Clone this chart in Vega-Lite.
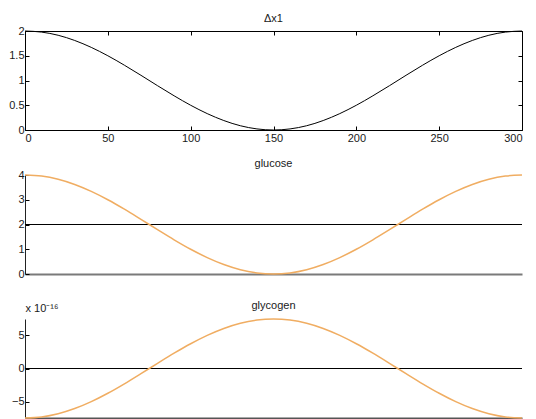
{
  "$schema": "https://vega.github.io/schema/vega-lite/v6.json",
  "bounds": "flush",
  "spacing": 45,
  "padding": {"left": 8, "top": 13, "right": 2, "bottom": 2},
  "background": "white",
  "config": {
    "font": "Liberation Sans",
    "view": {"stroke": null},
    "axis": {
      "grid": false,
      "labelFont": "Liberation Sans",
      "labelFontSize": 11,
      "labelColor": "#1a1a1a",
      "domainColor": "#000000",
      "tickColor": "#000000",
      "tickSize": -4,
      "domainWidth": 1,
      "tickWidth": 1,
      "format": "~r",
      "title": null
    },
    "title": {"font": "Liberation Sans", "fontSize": 11, "fontWeight": "normal", "color": "#1a1a1a", "frame": "group", "baseline": "alphabetic"}
  },
  "datasets": {
    "sim": [
      {"t": 0, "dx1": 2, "glucose": 4, "glycogen": -7.5},
      {"t": 10, "dx1": 1.978, "glucose": 3.956, "glycogen": -7.336},
      {"t": 20, "dx1": 1.914, "glucose": 3.827, "glycogen": -6.852},
      {"t": 30, "dx1": 1.809, "glucose": 3.618, "glycogen": -6.068},
      {"t": 40, "dx1": 1.669, "glucose": 3.338, "glycogen": -5.018},
      {"t": 50, "dx1": 1.5, "glucose": 3, "glycogen": -3.75},
      {"t": 60, "dx1": 1.309, "glucose": 2.618, "glycogen": -2.318},
      {"t": 70, "dx1": 1.105, "glucose": 2.209, "glycogen": -0.784},
      {"t": 80, "dx1": 0.895, "glucose": 1.791, "glycogen": 0.784},
      {"t": 90, "dx1": 0.691, "glucose": 1.382, "glycogen": 2.318},
      {"t": 100, "dx1": 0.5, "glucose": 1, "glycogen": 3.75},
      {"t": 110, "dx1": 0.331, "glucose": 0.662, "glycogen": 5.018},
      {"t": 120, "dx1": 0.191, "glucose": 0.382, "glycogen": 6.068},
      {"t": 130, "dx1": 0.086, "glucose": 0.173, "glycogen": 6.852},
      {"t": 140, "dx1": 0.022, "glucose": 0.044, "glycogen": 7.336},
      {"t": 150, "dx1": 0, "glucose": 0, "glycogen": 7.5},
      {"t": 160, "dx1": 0.022, "glucose": 0.044, "glycogen": 7.336},
      {"t": 170, "dx1": 0.086, "glucose": 0.173, "glycogen": 6.852},
      {"t": 180, "dx1": 0.191, "glucose": 0.382, "glycogen": 6.068},
      {"t": 190, "dx1": 0.331, "glucose": 0.662, "glycogen": 5.018},
      {"t": 200, "dx1": 0.5, "glucose": 1, "glycogen": 3.75},
      {"t": 210, "dx1": 0.691, "glucose": 1.382, "glycogen": 2.318},
      {"t": 220, "dx1": 0.895, "glucose": 1.791, "glycogen": 0.784},
      {"t": 230, "dx1": 1.105, "glucose": 2.209, "glycogen": -0.784},
      {"t": 240, "dx1": 1.309, "glucose": 2.618, "glycogen": -2.318},
      {"t": 250, "dx1": 1.5, "glucose": 3, "glycogen": -3.75},
      {"t": 260, "dx1": 1.669, "glucose": 3.338, "glycogen": -5.018},
      {"t": 270, "dx1": 1.809, "glucose": 3.618, "glycogen": -6.068},
      {"t": 280, "dx1": 1.914, "glucose": 3.827, "glycogen": -6.852},
      {"t": 290, "dx1": 1.978, "glucose": 3.956, "glycogen": -7.336},
      {"t": 300, "dx1": 2, "glucose": 4, "glycogen": -7.5}
    ]
  },
  "vconcat": [
    {
      "width": 497,
      "height": 99,
      "title": {"text": "Δx1", "offset": 1},
      "data": {"name": "sim"},
      "layer": [
        {
          "mark": {"type": "line", "color": "#000000", "strokeWidth": 1, "interpolate": "monotone"},
          "encoding": {
            "x": {"field": "t", "type": "quantitative", "scale": {"domain": [0, 300], "nice": false},
                  "axis": {"orient": "bottom", "values": [0, 50, 100, 150, 200, 250, 300], "labelPadding": 6.5}},
            "y": {"field": "dx1", "type": "quantitative", "scale": {"domain": [0, 2], "nice": false, "zero": false},
                  "axis": {"orient": "left", "values": [0, 0.5, 1, 1.5, 2], "labelPadding": 5}}
          }
        },
        {
          "mark": {"type": "line", "color": "#000000", "opacity": 0},
          "encoding": {
            "x": {"field": "t", "type": "quantitative", "scale": {"domain": [0, 300], "nice": false},
                  "axis": {"orient": "top", "values": [0, 50, 100, 150, 200, 250, 300], "labels": false}},
            "y": {"field": "dx1", "type": "quantitative", "scale": {"domain": [0, 2], "nice": false, "zero": false},
                  "axis": {"orient": "right", "values": [0, 0.5, 1, 1.5, 2], "labels": false}}
          }
        }
      ],
      "resolve": {"scale": {"x": "independent", "y": "independent"}}
    },
    {
      "width": 497,
      "height": 99,
      "title": {"text": "glucose", "offset": 0},
      "data": {"name": "sim"},
      "encoding": {
        "x": {"field": "t", "type": "quantitative", "scale": {"domain": [0, 300], "nice": false},
              "axis": {"orient": "bottom", "ticks": false, "labels": false, "domainColor": "#7a7a7a", "domainWidth": 2}}
      },
      "layer": [
        {
          "mark": {"type": "rule", "color": "#000000", "strokeWidth": 1},
          "encoding": {"x": null, "y": {"datum": 2, "type": "quantitative", "scale": {"domain": [0, 4], "nice": false},
                  "axis": {"orient": "left", "values": [0, 1, 2, 3, 4], "labelPadding": 5, "domainColor": "#222222"}}}
        },
        {
          "mark": {"type": "line", "color": "#F0AD62", "strokeWidth": 1.5, "interpolate": "monotone"},
          "encoding": {
            "y": {"field": "glucose", "type": "quantitative", "scale": {"domain": [0, 4], "nice": false},
                  "axis": {"orient": "left", "values": [0, 1, 2, 3, 4], "labelPadding": 5, "domainColor": "#222222"}}
          }
        }
      ]
    },
    {
      "width": 497,
      "height": 99,
      "title": {"text": "glycogen", "offset": -9},
      "data": {"name": "sim"},
      "encoding": {
        "x": {"field": "t", "type": "quantitative", "scale": {"domain": [0, 300], "nice": false},
              "axis": {"orient": "bottom", "ticks": false, "labels": false, "domainColor": "#555555", "domainWidth": 2}}
      },
      "layer": [
        {
          "mark": {"type": "rule", "color": "#000000", "strokeWidth": 1},
          "encoding": {"x": null, "y": {"datum": 0, "type": "quantitative", "scale": {"domain": [-7.5, 7.5], "nice": false, "zero": false},
                  "axis": {"orient": "left", "values": [-5, 0, 5], "labelPadding": 5, "domainColor": "#222222",
                           "title": "x 10⁻¹⁶", "titleAngle": 0, "titleAlign": "left", "titleBaseline": "alphabetic",
                           "titleX": 0, "titleY": -8, "titleFont": "Liberation Sans", "titleFontSize": 11, "titleFontWeight": "normal", "titleColor": "#1a1a1a"}}}
        },
        {
          "mark": {"type": "line", "color": "#F0AD62", "strokeWidth": 1.5, "interpolate": "monotone"},
          "encoding": {
            "y": {"field": "glycogen", "type": "quantitative", "scale": {"domain": [-7.5, 7.5], "nice": false, "zero": false},
                  "axis": {"orient": "left", "values": [-5, 0, 5], "labelPadding": 5, "domainColor": "#222222",
                           "title": "x 10⁻¹⁶", "titleAngle": 0, "titleAlign": "left", "titleBaseline": "alphabetic",
                           "titleX": 0, "titleY": -8, "titleFont": "Liberation Sans", "titleFontSize": 11, "titleFontWeight": "normal", "titleColor": "#1a1a1a"}}
          }
        }
      ]
    }
  ]
}
